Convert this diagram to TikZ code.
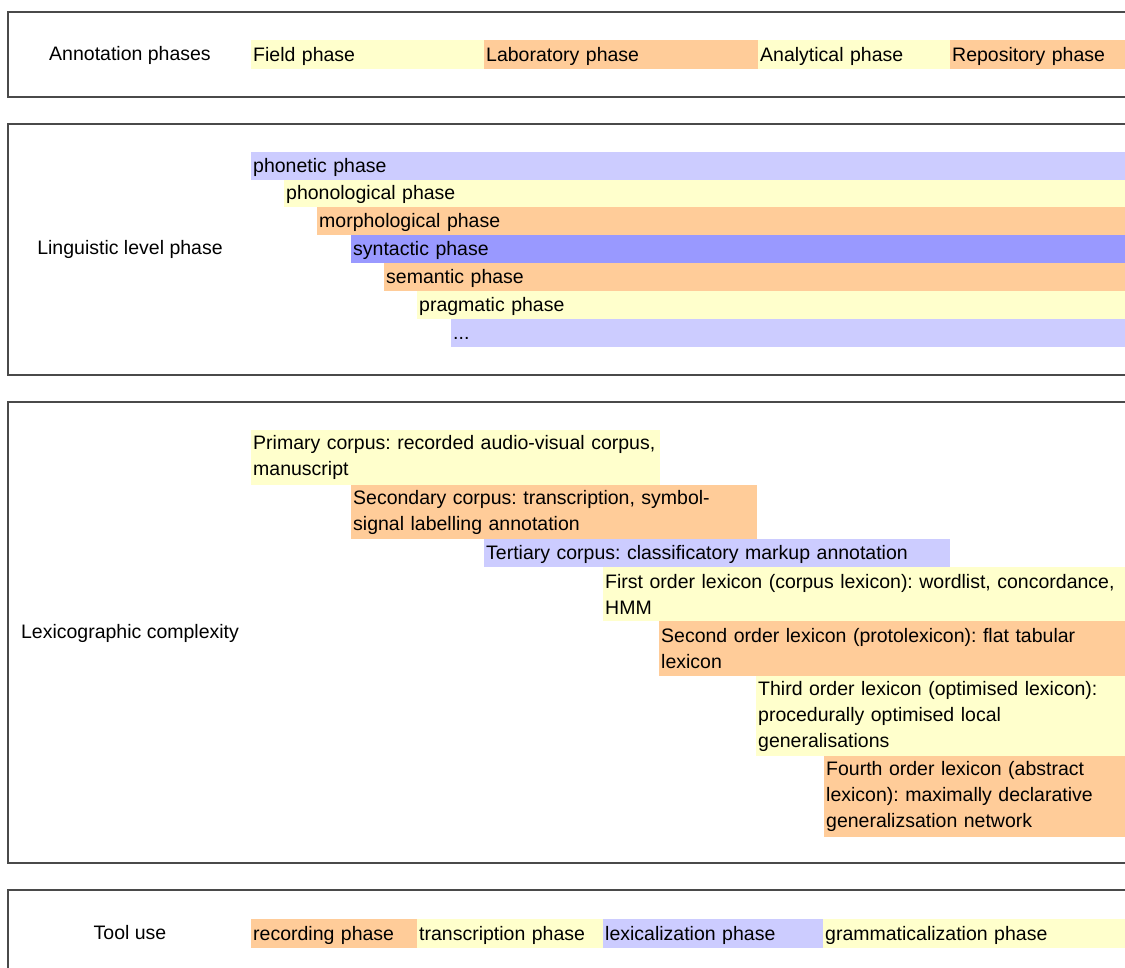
\documentclass[tikz,border=0pt]{standalone}
\usepackage{fontspec}
\setmainfont{Liberation Sans}
\definecolor{cy}{HTML}{FFFFCC}
\definecolor{co}{HTML}{FFCC99}
\definecolor{cb}{HTML}{CCCCFF}
\definecolor{cd}{HTML}{9999FF}
\definecolor{frame}{HTML}{4A4A4A}
\tikzset{
  panel/.style={draw=frame, line width=1.2pt},
  lbl/.style={font=\fontsize{19.5}{26}\selectfont, inner sep=0pt},
  bar/.style={anchor=north west, inner xsep=2pt, inner ysep=0pt, align=left,
    font=\fontsize{19.5}{26}\selectfont\frenchspacing},
  one/.style={text height=16pt, text depth=3pt},
}
\newcommand{\barnode}[8]{% style, name, fill, x, y, w, h, text
  \node[bar, #1, fill=#3, minimum width=#6pt, minimum height=#7pt, text width=#6pt-4pt] (#2) at (#4,#5) {#8};}
\begin{document}
\begin{tikzpicture}[x=1pt,y=-1pt]
\useasboundingbox (0,0) rectangle (1125,968);
% panels
\draw[panel] (1135,12) -- (8,12) -- (8,97) -- (1135,97);
\draw[panel] (1135,124) -- (8,124) -- (8,375) -- (1135,375);
\draw[panel] (1135,402) -- (8,402) -- (8,863) -- (1135,863);
\draw[panel] (1135,890) -- (8,890) -- (8,975);
% row 1
\node[lbl] (l1) at (130,55) {Annotation phases};
\barnode{one}{a1}{cy}{251}{40}{233}{29}{Field phase}
\barnode{one}{a2}{co}{484}{40}{274}{29}{Laboratory phase}
\barnode{one}{a3}{cy}{758}{40}{192}{29}{Analytical phase}
\barnode{one}{a4}{co}{950}{40}{175}{29}{Repository phase}
% row 2
\node[lbl] (l2) at (130,249) {Linguistic level phase};
\barnode{one}{b1}{cb}{251}{152}{874}{27.5}{phonetic phase}
\barnode{one}{b2}{cy}{284}{179.5}{841}{27.5}{phonological phase}
\barnode{one}{b3}{co}{317}{207}{808}{28}{morphological phase}
\barnode{one}{b4}{cd}{351}{235}{774}{28}{syntactic phase}
\barnode{one}{b5}{co}{384}{263}{741}{28}{semantic phase}
\barnode{one}{b6}{cy}{417}{291}{708}{28}{pragmatic phase}
\barnode{one}{b7}{cb}{451}{319}{674}{28}{...}
% row 3
\node[lbl] (l3) at (130,633) {Lexicographic complexity};
\barnode{}{c1}{cy}{251}{430}{409}{55}{\mbox{Primary corpus: recorded audio-visual corpus,}\\\mbox{manuscript}}
\barnode{}{c2}{co}{351}{485}{406}{54}{\mbox{Secondary corpus: transcription, symbol-}\\\mbox{signal labelling annotation}}
\barnode{one}{c3}{cb}{484}{539}{466}{28}{\mbox{Tertiary corpus: classificatory markup annotation}}
\barnode{}{c4}{cy}{603}{567}{522}{54}{\mbox{First order lexicon (corpus lexicon): wordlist, concordance,}\\\mbox{HMM}}
\barnode{}{c5}{co}{659}{621}{466}{55}{\mbox{Second order lexicon (protolexicon): flat tabular}\\\mbox{lexicon}}
\barnode{}{c6}{cy}{756}{676}{369}{80}{\mbox{Third order lexicon (optimised lexicon):}\\\mbox{procedurally optimised local}\\\mbox{generalisations}}
\barnode{}{c7}{co}{824}{756}{301}{81}{\mbox{Fourth order lexicon (abstract}\\\mbox{lexicon): maximally declarative}\\\mbox{generalizsation network}}
% row 4
\node[lbl] (l4) at (130,933) {Tool use};
\barnode{one}{d1}{co}{251}{919}{166}{29}{recording phase}
\barnode{one}{d2}{cy}{417}{919}{186}{29}{transcription phase}
\barnode{one}{d3}{cb}{603}{919}{220}{29}{lexicalization phase}
\barnode{one}{d4}{cy}{823}{919}{302}{29}{grammaticalization phase}
\end{tikzpicture}
\end{document}
